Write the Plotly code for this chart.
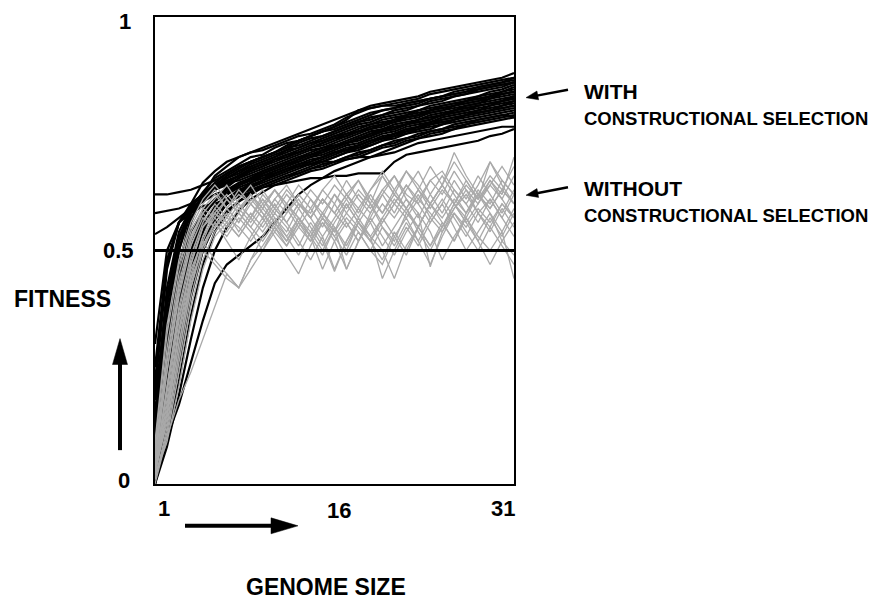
import math
import plotly.graph_objects as go

# ---------------- data ----------------
genome_size = [1, 2, 3, 4, 5, 6, 7, 8, 9, 10, 11, 12, 13, 14, 15, 16,
               17, 18, 19, 20, 21, 22, 23, 24, 25, 26, 27, 28, 29, 30, 31]

# fitness runs WITH constructional selection (black)
with_selection = [
    [0.04,0.30,0.50,0.60,0.645,0.67,0.69,0.70,0.71,0.72,0.73,0.74,0.75,0.76,0.77,0.78,0.79,0.80,0.81,0.815,0.82,0.825,0.83,0.84,0.845,0.85,0.855,0.86,0.865,0.87,0.88],
    [0.00,0.22,0.42,0.56,0.62,0.66,0.68,0.70,0.71,0.715,0.725,0.735,0.745,0.75,0.76,0.77,0.785,0.795,0.805,0.81,0.815,0.82,0.825,0.835,0.84,0.845,0.85,0.855,0.86,0.865,0.87],
    [0.08,0.35,0.52,0.59,0.625,0.655,0.67,0.685,0.70,0.705,0.72,0.73,0.735,0.745,0.755,0.76,0.77,0.78,0.79,0.80,0.805,0.815,0.82,0.825,0.83,0.84,0.845,0.85,0.855,0.86,0.865],
    [0.62,0.62,0.625,0.63,0.64,0.65,0.665,0.68,0.69,0.70,0.71,0.72,0.725,0.735,0.745,0.755,0.765,0.775,0.78,0.79,0.795,0.80,0.81,0.815,0.82,0.83,0.835,0.84,0.845,0.85,0.86],
    [0.58,0.585,0.59,0.60,0.62,0.64,0.655,0.67,0.68,0.69,0.70,0.71,0.72,0.73,0.74,0.75,0.76,0.77,0.775,0.785,0.79,0.795,0.80,0.81,0.815,0.82,0.825,0.83,0.84,0.845,0.855],
    [0.535,0.55,0.57,0.59,0.61,0.63,0.645,0.66,0.675,0.685,0.695,0.705,0.715,0.725,0.735,0.745,0.755,0.765,0.77,0.78,0.785,0.79,0.80,0.805,0.81,0.815,0.82,0.83,0.835,0.84,0.85],
    [0.10,0.38,0.52,0.58,0.615,0.64,0.655,0.665,0.68,0.69,0.70,0.715,0.72,0.73,0.735,0.745,0.75,0.76,0.77,0.775,0.78,0.79,0.795,0.80,0.81,0.815,0.82,0.825,0.83,0.84,0.845],
    [0.02,0.20,0.38,0.50,0.57,0.61,0.635,0.655,0.67,0.68,0.695,0.705,0.71,0.72,0.73,0.74,0.75,0.755,0.765,0.77,0.78,0.785,0.79,0.80,0.805,0.81,0.815,0.82,0.83,0.835,0.84],
    [0.15,0.42,0.54,0.59,0.61,0.63,0.64,0.655,0.665,0.675,0.685,0.695,0.705,0.715,0.72,0.73,0.74,0.75,0.76,0.765,0.775,0.78,0.785,0.795,0.80,0.805,0.81,0.815,0.825,0.83,0.835],
    [0.03,0.15,0.30,0.45,0.54,0.59,0.62,0.64,0.655,0.67,0.68,0.69,0.70,0.71,0.72,0.725,0.735,0.745,0.755,0.76,0.77,0.775,0.78,0.79,0.795,0.80,0.81,0.815,0.82,0.825,0.83],
    [0.20,0.46,0.56,0.60,0.62,0.635,0.645,0.65,0.66,0.67,0.68,0.69,0.70,0.705,0.715,0.72,0.73,0.74,0.75,0.755,0.765,0.77,0.78,0.785,0.79,0.80,0.805,0.81,0.815,0.82,0.83],
    [0.01,0.12,0.25,0.40,0.50,0.565,0.60,0.625,0.645,0.66,0.67,0.68,0.69,0.70,0.71,0.72,0.73,0.735,0.745,0.755,0.76,0.77,0.775,0.78,0.79,0.795,0.80,0.805,0.81,0.82,0.825],
    [0.12,0.30,0.45,0.54,0.585,0.61,0.63,0.645,0.655,0.665,0.675,0.685,0.69,0.70,0.705,0.715,0.725,0.73,0.74,0.75,0.755,0.765,0.77,0.775,0.785,0.79,0.795,0.80,0.81,0.815,0.82],
    [0.05,0.18,0.33,0.46,0.54,0.585,0.61,0.63,0.64,0.65,0.66,0.67,0.68,0.69,0.70,0.71,0.72,0.725,0.735,0.745,0.75,0.76,0.765,0.775,0.78,0.785,0.79,0.80,0.805,0.81,0.815],
    [0.25,0.48,0.56,0.59,0.605,0.62,0.63,0.64,0.65,0.66,0.665,0.675,0.685,0.695,0.70,0.71,0.715,0.725,0.735,0.74,0.75,0.755,0.765,0.77,0.775,0.78,0.79,0.795,0.80,0.805,0.81],
    [0.02,0.10,0.22,0.36,0.47,0.54,0.58,0.605,0.625,0.64,0.65,0.66,0.67,0.68,0.69,0.70,0.71,0.72,0.725,0.735,0.745,0.75,0.76,0.765,0.77,0.78,0.785,0.79,0.795,0.80,0.805],
    [0.09,0.25,0.40,0.50,0.56,0.59,0.61,0.625,0.635,0.645,0.655,0.665,0.675,0.685,0.69,0.70,0.71,0.715,0.725,0.735,0.74,0.75,0.755,0.76,0.77,0.775,0.78,0.785,0.79,0.795,0.80],
    [0.04,0.14,0.28,0.41,0.50,0.555,0.585,0.605,0.62,0.635,0.645,0.655,0.665,0.675,0.68,0.69,0.70,0.71,0.715,0.725,0.735,0.74,0.75,0.755,0.76,0.77,0.775,0.78,0.785,0.79,0.795],
    [0.00,0.08,0.19,0.31,0.42,0.50,0.55,0.585,0.61,0.625,0.64,0.65,0.66,0.67,0.675,0.685,0.695,0.70,0.71,0.72,0.725,0.735,0.74,0.75,0.755,0.76,0.77,0.775,0.78,0.785,0.79],
    [0.30,0.50,0.56,0.58,0.595,0.60,0.61,0.62,0.63,0.64,0.65,0.66,0.665,0.675,0.685,0.69,0.70,0.705,0.715,0.725,0.73,0.74,0.745,0.755,0.76,0.765,0.77,0.78,0.785,0.79,0.785],
    [0.00,0.10,0.17,0.26,0.35,0.43,0.47,0.49,0.51,0.53,0.56,0.59,0.62,0.64,0.655,0.67,0.68,0.69,0.70,0.71,0.72,0.73,0.74,0.745,0.75,0.76,0.765,0.77,0.775,0.78,0.785],
    [0.03,0.16,0.30,0.43,0.52,0.57,0.60,0.615,0.625,0.635,0.64,0.645,0.65,0.655,0.655,0.66,0.66,0.665,0.665,0.665,0.69,0.705,0.71,0.715,0.72,0.725,0.73,0.735,0.745,0.75,0.76],
    [0.07,0.22,0.36,0.47,0.54,0.59,0.62,0.635,0.645,0.655,0.665,0.675,0.68,0.685,0.69,0.69,0.695,0.70,0.70,0.705,0.71,0.72,0.73,0.735,0.74,0.745,0.75,0.755,0.76,0.765,0.765],
    [0.11,0.36,0.50,0.58,0.62,0.645,0.665,0.68,0.69,0.70,0.71,0.72,0.735,0.745,0.755,0.765,0.78,0.80,0.805,0.81,0.81,0.815,0.82,0.825,0.83,0.835,0.84,0.845,0.85,0.855,0.86],
    [0.18,0.40,0.52,0.58,0.61,0.635,0.65,0.66,0.675,0.685,0.695,0.70,0.71,0.72,0.73,0.74,0.745,0.755,0.765,0.77,0.78,0.785,0.79,0.80,0.805,0.81,0.82,0.825,0.83,0.835,0.84],
    [0.06,0.17,0.32,0.44,0.52,0.575,0.605,0.625,0.64,0.65,0.665,0.675,0.685,0.69,0.70,0.71,0.715,0.725,0.735,0.74,0.75,0.76,0.765,0.77,0.78,0.785,0.79,0.795,0.80,0.81,0.82],
    [0.00,0.28,0.47,0.57,0.61,0.635,0.655,0.67,0.685,0.695,0.705,0.715,0.73,0.74,0.745,0.755,0.765,0.775,0.785,0.79,0.80,0.805,0.81,0.82,0.825,0.83,0.835,0.845,0.85,0.855,0.86],
    [0.05,0.20,0.36,0.48,0.55,0.595,0.62,0.64,0.65,0.665,0.675,0.685,0.695,0.705,0.715,0.725,0.73,0.74,0.75,0.76,0.765,0.77,0.78,0.785,0.79,0.80,0.805,0.81,0.815,0.82,0.83],
    [0.13,0.40,0.53,0.585,0.61,0.63,0.645,0.66,0.67,0.68,0.69,0.70,0.71,0.72,0.725,0.735,0.745,0.755,0.76,0.77,0.775,0.785,0.79,0.795,0.80,0.81,0.815,0.82,0.825,0.835,0.84],
    [0.02,0.14,0.30,0.43,0.52,0.575,0.60,0.62,0.635,0.65,0.66,0.67,0.68,0.685,0.695,0.705,0.715,0.72,0.73,0.74,0.745,0.755,0.76,0.77,0.775,0.78,0.79,0.795,0.80,0.805,0.81],
    [0.22,0.47,0.56,0.595,0.62,0.64,0.66,0.675,0.69,0.70,0.71,0.725,0.735,0.745,0.755,0.765,0.775,0.785,0.795,0.80,0.805,0.81,0.815,0.825,0.83,0.835,0.84,0.85,0.855,0.86,0.87],
    [0.08,0.26,0.42,0.52,0.575,0.605,0.625,0.64,0.655,0.665,0.675,0.685,0.695,0.705,0.71,0.72,0.73,0.74,0.745,0.755,0.76,0.77,0.775,0.78,0.79,0.795,0.80,0.81,0.815,0.82,0.825],
]

# fitness runs WITHOUT constructional selection (grey)
without_selection = [
    [0.02,0.16,0.33,0.47,0.55,0.58,0.56,0.60,0.57,0.62,0.59,0.63,0.60,0.58,0.63,0.60,0.65,0.61,0.58,0.63,0.66,0.62,0.60,0.65,0.62,0.67,0.63,0.60,0.64,0.61,0.66],
    [0.05,0.24,0.40,0.51,0.57,0.55,0.59,0.56,0.61,0.58,0.55,0.60,0.57,0.53,0.58,0.55,0.50,0.56,0.60,0.55,0.52,0.58,0.62,0.57,0.54,0.59,0.63,0.58,0.55,0.60,0.57],
    [0.01,0.10,0.24,0.38,0.48,0.54,0.57,0.55,0.52,0.56,0.60,0.56,0.52,0.48,0.53,0.46,0.52,0.57,0.53,0.44,0.50,0.55,0.51,0.56,0.60,0.55,0.50,0.54,0.58,0.52,0.49],
    [0.08,0.32,0.47,0.55,0.60,0.63,0.59,0.62,0.60,0.57,0.61,0.64,0.60,0.57,0.61,0.58,0.62,0.59,0.63,0.66,0.62,0.67,0.64,0.60,0.64,0.71,0.66,0.62,0.66,0.63,0.68],
    [0.00,0.10,0.18,0.24,0.31,0.38,0.45,0.42,0.48,0.51,0.55,0.52,0.56,0.53,0.57,0.54,0.58,0.55,0.52,0.56,0.60,0.57,0.61,0.58,0.55,0.59,0.62,0.58,0.61,0.57,0.53],
    [0.03,0.19,0.36,0.46,0.52,0.48,0.45,0.42,0.48,0.53,0.57,0.54,0.59,0.55,0.51,0.56,0.60,0.56,0.53,0.57,0.61,0.58,0.55,0.60,0.64,0.60,0.57,0.62,0.59,0.63,0.60],
    [0.04,0.21,0.38,0.49,0.56,0.60,0.57,0.61,0.64,0.60,0.56,0.52,0.57,0.53,0.49,0.55,0.46,0.52,0.56,0.51,0.55,0.59,0.54,0.50,0.55,0.60,0.56,0.52,0.57,0.53,0.58],
    [0.06,0.27,0.43,0.53,0.58,0.61,0.64,0.60,0.57,0.61,0.58,0.62,0.59,0.63,0.60,0.64,0.61,0.57,0.62,0.58,0.63,0.67,0.63,0.59,0.63,0.60,0.65,0.61,0.69,0.64,0.60],
    [0.02,0.14,0.30,0.43,0.51,0.56,0.53,0.57,0.54,0.50,0.55,0.51,0.56,0.52,0.57,0.53,0.49,0.54,0.50,0.47,0.53,0.57,0.52,0.47,0.53,0.58,0.54,0.50,0.55,0.51,0.47],
    [0.07,0.29,0.45,0.54,0.59,0.57,0.61,0.58,0.62,0.59,0.63,0.60,0.64,0.61,0.58,0.62,0.59,0.63,0.60,0.66,0.62,0.59,0.63,0.68,0.64,0.60,0.64,0.61,0.65,0.62,0.70],
    [0.03,0.18,0.35,0.47,0.55,0.59,0.56,0.53,0.57,0.54,0.58,0.55,0.51,0.56,0.52,0.455,0.52,0.56,0.52,0.48,0.54,0.50,0.55,0.51,0.56,0.52,0.57,0.53,0.50,0.54,0.44],
    [0.01,0.12,0.28,0.42,0.51,0.55,0.58,0.54,0.58,0.55,0.59,0.56,0.60,0.57,0.61,0.58,0.55,0.59,0.56,0.60,0.57,0.61,0.58,0.465,0.54,0.58,0.55,0.59,0.56,0.60,0.57],
    [0.05,0.24,0.41,0.52,0.58,0.55,0.59,0.56,0.60,0.63,0.59,0.56,0.60,0.57,0.61,0.58,0.62,0.65,0.61,0.58,0.62,0.59,0.63,0.60,0.57,0.61,0.58,0.62,0.59,0.63,0.60],
    [0.02,0.15,0.32,0.44,0.50,0.47,0.44,0.42,0.46,0.50,0.54,0.51,0.55,0.52,0.56,0.53,0.57,0.54,0.50,0.55,0.51,0.56,0.52,0.57,0.61,0.57,0.53,0.58,0.54,0.59,0.55],
    [0.04,0.21,0.37,0.48,0.55,0.58,0.61,0.58,0.55,0.59,0.56,0.60,0.57,0.53,0.46,0.52,0.56,0.52,0.58,0.62,0.66,0.61,0.57,0.62,0.58,0.63,0.60,0.56,0.61,0.57,0.62],
    [0.06,0.26,0.42,0.52,0.59,0.62,0.59,0.63,0.60,0.57,0.61,0.58,0.62,0.59,0.55,0.60,0.56,0.52,0.57,0.62,0.58,0.63,0.67,0.62,0.66,0.62,0.58,0.63,0.60,0.65,0.62],
    [0.03,0.17,0.33,0.45,0.53,0.57,0.54,0.58,0.55,0.52,0.56,0.53,0.57,0.54,0.50,0.55,0.51,0.56,0.53,0.50,0.44,0.51,0.55,0.51,0.55,0.60,0.56,0.60,0.65,0.61,0.57],
    [0.09,0.34,0.48,0.56,0.61,0.64,0.61,0.58,0.62,0.59,0.63,0.60,0.56,0.61,0.57,0.62,0.58,0.62,0.59,0.63,0.60,0.64,0.61,0.65,0.67,0.63,0.60,0.64,0.69,0.65,0.62],
    [0.02,0.09,0.21,0.35,0.46,0.53,0.56,0.53,0.57,0.61,0.57,0.53,0.49,0.54,0.58,0.54,0.60,0.56,0.52,0.57,0.53,0.49,0.55,0.60,0.56,0.52,0.58,0.62,0.58,0.54,0.59],
    [0.04,0.15,0.30,0.44,0.53,0.59,0.62,0.59,0.56,0.60,0.63,0.59,0.55,0.59,0.63,0.66,0.62,0.58,0.63,0.67,0.63,0.59,0.55,0.60,0.64,0.69,0.65,0.61,0.64,0.68,0.64],
    [0.01,0.11,0.26,0.40,0.50,0.56,0.52,0.48,0.53,0.57,0.53,0.49,0.45,0.51,0.56,0.52,0.46,0.52,0.57,0.53,0.49,0.54,0.58,0.54,0.48,0.53,0.57,0.52,0.47,0.52,0.56],
    [0.03,0.13,0.28,0.42,0.52,0.58,0.55,0.59,0.62,0.58,0.54,0.58,0.61,0.57,0.53,0.57,0.61,0.65,0.60,0.56,0.60,0.64,0.60,0.56,0.60,0.65,0.61,0.66,0.62,0.58,0.63],
]

reference_level = [0.5, 0.5]
reference_x = [1, 31]

x_tick_values = [1, 16, 31]
x_tick_labels = ["1", "16", "31"]
y_tick_values = [1, 0.5, 0]
y_tick_labels = ["1", "0.5", "0"]

# ---------------- figure ----------------
# the page body adds an 8px margin; size the figure so it ends at the window edge
OFF = 8
VW, VH = 880, 604
W, H = VW - OFF, VH - OFF
L, R, T, B = 155, 514, 15, 484   # plot area in window pixels


def px(x):
    return (x - L) / (R - L)


def py(y):
    return (B - y) / (B - T)


FONT = "Liberation Sans, Arial, Helvetica, sans-serif"

fig = go.Figure()

for run in with_selection:
    fig.add_trace(go.Scatter(x=genome_size[:len(run)], y=run, mode="lines",
                             line=dict(color="#000000", width=2.2),
                             hoverinfo="skip", showlegend=False))

for run in without_selection:
    fig.add_trace(go.Scatter(x=genome_size[:len(run)], y=run, mode="lines",
                             line=dict(color="#a9a9a9", width=1.3),
                             hoverinfo="skip", showlegend=False))

fig.add_trace(go.Scatter(x=reference_x, y=reference_level, mode="lines",
                         line=dict(color="#000000", width=3),
                         hoverinfo="skip", showlegend=False))

annotations = []


def text(s, x, y, size, xanchor="center"):
    annotations.append(dict(text="<b>" + s + "</b>", x=px(x), y=py(y),
                            xref="paper", yref="paper", showarrow=False,
                            xanchor=xanchor, yanchor="middle",
                            font=dict(family=FONT, size=size, color="#000000")))


# y tick labels
y_label_px = {1: (125, 20), 0.5: (118, 250), 0: (124, 480)}
for v, lab in zip(y_tick_values, y_tick_labels):
    xx, yy = y_label_px[v]
    text(lab, xx, yy, 22)

# x tick labels
x_anchor = {1: "left", 16: "center", 31: "right"}
x_shift = {1: 1, 16: 4, 31: 3}
for v, lab in zip(x_tick_values, x_tick_labels):
    annotations.append(dict(text="<b>" + lab + "</b>", x=v, y=py(509 if v != 16 else 511),
                            xref="x", yref="paper", showarrow=False,
                            xanchor=x_anchor[v], yanchor="middle", xshift=x_shift[v],
                            font=dict(family=FONT, size=22, color="#000000")))

text("FITNESS", 62, 298, 23)
text("GENOME SIZE", 326, 587, 23)
text("WITH", 582, 90, 21, "left")
text("CONSTRUCTIONAL SELECTION", 582, 117, 18.5, "left")
text("WITHOUT", 582, 187, 21, "left")
text("CONSTRUCTIONAL SELECTION", 582, 214, 18.5, "left")

shapes = []


def line(x0, y0, x1, y1, w):
    shapes.append(dict(type="line", xref="paper", yref="paper",
                       x0=px(x0), y0=py(y0), x1=px(x1), y1=py(y1),
                       line=dict(color="#000000", width=w)))


def tri(pts):
    path = "M " + " L ".join(f"{px(a)},{py(b)}" for a, b in pts) + " Z"
    shapes.append(dict(type="path", xref="paper", yref="paper", path=path,
                       fillcolor="#000000", line=dict(color="#000000", width=0.5)))


# vertical fitness arrow
line(120, 450, 120, 360, 4)
tri([(120, 338), (112.5, 364), (127.5, 364)])
# horizontal genome size arrow
line(185, 526, 274, 526, 4)
tri([(298, 526), (271, 518), (271, 534)])


def pointer(x0, y0, x1, y1):
    dx, dy = x1 - x0, y1 - y0
    ln = math.hypot(dx, dy)
    ux, uy = dx / ln, dy / ln
    hl, hw = 12, 4.5
    bx, by = x1 - hl * ux, y1 - hl * uy
    nx, ny = -uy, ux
    line(x0, y0, bx + ux, by + uy, 2.5)
    tri([(x1, y1), (bx + hw * nx, by + hw * ny), (bx - hw * nx, by - hw * ny)])


pointer(568, 88, 526, 96)
pointer(568, 186, 526, 194)

fig.update_layout(
    width=W, height=H,
    margin=dict(l=L - OFF, r=VW - R, t=T - OFF, b=VH - B, pad=0),
    paper_bgcolor="#ffffff", plot_bgcolor="#ffffff",
    xaxis=dict(range=[1, 31], showgrid=False, zeroline=False, showticklabels=False,
               ticks="", showline=True, mirror=True, linecolor="#000000", linewidth=1.5),
    yaxis=dict(range=[0, 1], showgrid=False, zeroline=False, showticklabels=False,
               ticks="", showline=True, mirror=True, linecolor="#000000", linewidth=1.5),
    annotations=annotations,
    shapes=shapes,
    showlegend=False,
)

fig.write_html("out.html")
